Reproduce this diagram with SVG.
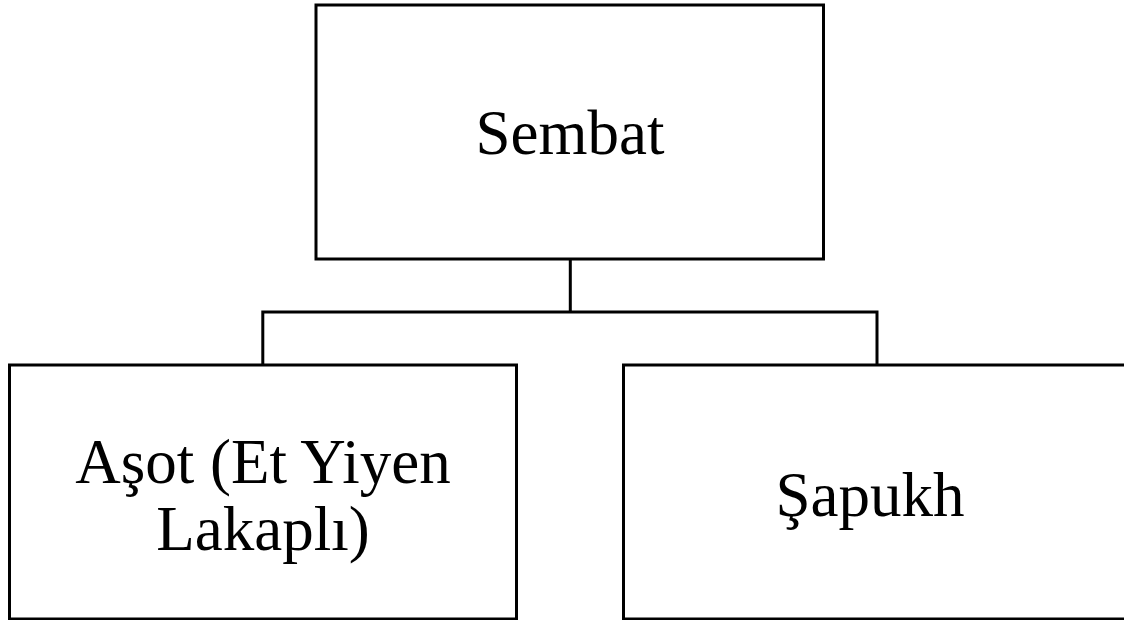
<svg xmlns="http://www.w3.org/2000/svg" width="1124" height="620" viewBox="0 0 1124 620">
<style>
.box{fill:#fff;stroke:#000;stroke-width:3}
.ln{fill:none;stroke:#000;stroke-width:3}
.t{font-family:"Liberation Serif","Times New Roman",serif;font-size:63px;fill:#000;text-anchor:middle}
</style>
<rect width="1124" height="620" fill="#fff"/>
<g id="connectors">
<path class="ln" d="M570.3 259 V312 M262.8 365 V312 H877 V365"/>
</g>
<g id="sembat">
<rect class="box" x="316" y="5" width="507.5" height="254"/>
<text class="t" x="570" y="154">Sembat</text>
</g>
<g id="asot">
<rect class="box" x="9.5" y="365" width="507" height="254"/>
<text class="t" x="263" y="483">Aşot (Et Yiyen</text>
<text class="t" x="263" y="550">Lakaplı)</text>
</g>
<g id="sapukh">
<rect class="box" x="623.5" y="365" width="507" height="254"/>
<text class="t" x="870" y="516">Şapukh</text>
</g>
</svg>
